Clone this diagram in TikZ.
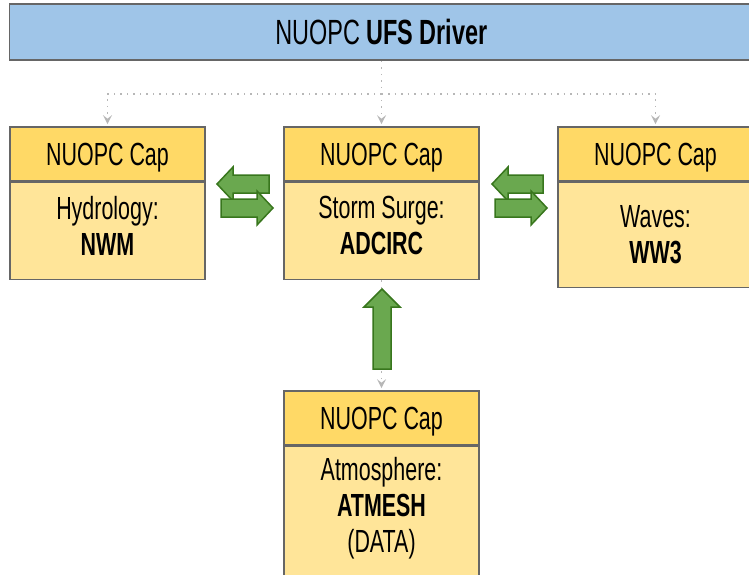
\documentclass[tikz,border=0pt]{standalone}
\usepackage{fontspec}
\setmainfont[FakeStretch=0.67]{Liberation Sans}
\usetikzlibrary{positioning,arrows.meta}

\definecolor{driverblue}{HTML}{9FC5E8}
\definecolor{capyellow}{HTML}{FFD966}
\definecolor{modelyellow}{HTML}{FFE599}
\definecolor{boxgray}{HTML}{666666}
\definecolor{linkgray}{HTML}{B7B7B7}
\definecolor{swapfill}{HTML}{6AA84F}
\definecolor{swapdraw}{HTML}{38761D}

\newcommand{\capfont}{\fontsize{32}{36}\selectfont}

\begin{document}
\begin{tikzpicture}[
        x=1pt,y=-1pt,
        driverbox/.style={draw=boxgray,fill=driverblue,line width=1.6pt,minimum width=744pt,minimum height=56pt,text height=25pt,text depth=0pt,font=\fontsize{35}{40}\selectfont},
        capbox/.style={draw=boxgray,fill=capyellow,line width=1.6pt,minimum width=195pt,minimum height=54pt,text height=23pt,text depth=0pt,font=\capfont},
        modelbox/.style={draw=boxgray,fill=modelyellow,line width=1.6pt,minimum width=195pt,align=center,font=\capfont},
        linkline/.style={draw=linkgray,line width=1.5pt,dash pattern=on 1.5pt off 5pt,-{Stealth[length=9pt,width=9pt,inset=3.5pt]},shorten >=2pt},
        swaparrow/.style={draw=swapdraw,fill=swapfill,line width=1.5pt,line join=miter}
    ]
    \path[use as bounding box] (0,0) rectangle (749,575);
    \clip (0,0) rectangle (749,575);

    \node[driverbox] (driver) at (381.5,32) {NUOPC \textbf{UFS Driver}};

    \node[capbox] (hydroCap) at (107.5,154) {NUOPC Cap};
    \node[modelbox,minimum height=97pt,text depth=11pt,below=0pt of hydroCap] (hydro) {Hydrology:\\\textbf{NWM}};

    \node[capbox] (surgeCap) at (381.5,154) {NUOPC Cap};
    \node[modelbox,minimum height=97pt,text depth=11pt,below=0pt of surgeCap] (surge) {Storm Surge:\\\textbf{ADCIRC}};

    \node[capbox] (wavesCap) at (655.5,154) {NUOPC Cap};
    \node[modelbox,minimum height=105pt,below=0pt of wavesCap] (waves) {Waves:\\\textbf{WW3}};

    \node[capbox] (atmosCap) at (381.5,418) {NUOPC Cap};
    \node[modelbox,inner ysep=10.5pt,text depth=100pt,below=0pt of atmosCap] (atmos) {Atmosphere:\\\textbf{ATMESH}\\(DATA)};

    % driver to the caps
    \path (driver.south) ++(0,33) coordinate (fork);
    \draw[linkline] (driver.south) -- (surgeCap.north);
    \draw[linkline] (fork) -| (hydroCap.north);
    \draw[linkline] (fork) -| (wavesCap.north);
    \draw[linkline] (surge.south) -- (atmosCap.north);

    % exchange arrows
    \draw[swaparrow] (217,184) -- (233,167) -- (233,175) -- (269,175) -- (269,193) -- (233,193) -- (233,201) -- cycle;
    \draw[swaparrow] (273,208) -- (257,191) -- (257,199) -- (221,199) -- (221,217) -- (257,217) -- (257,225) -- cycle;
    \draw[swaparrow] (492,184) -- (508,167) -- (508,175) -- (543,175) -- (543,193) -- (508,193) -- (508,201) -- cycle;
    \draw[swaparrow] (547,208) -- (531,191) -- (531,199) -- (495,199) -- (495,217) -- (531,217) -- (531,225) -- cycle;
    \draw[swaparrow] (382,289) -- (400,307) -- (391,307) -- (391,369) -- (373,369) -- (373,307) -- (364,307) -- cycle;
\end{tikzpicture}
\end{document}
